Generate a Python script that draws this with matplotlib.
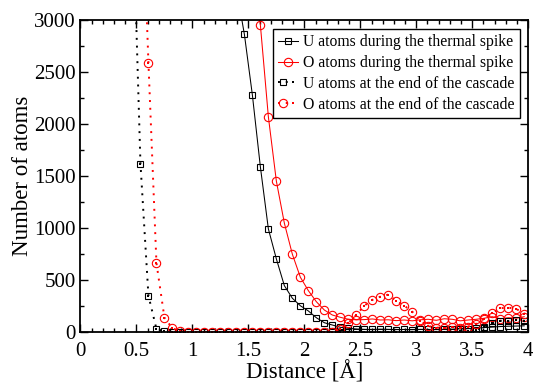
import numpy as np
import matplotlib
matplotlib.use("Agg")
import matplotlib.pyplot as plt
from matplotlib.legend_handler import HandlerTuple

plt.rcParams['font.family'] = ['Liberation Serif', 'DejaVu Serif']
plt.rcParams['mathtext.fontset'] = 'stix'

# bin index k -> distance (k + 0.5) / 14
def dist(k0, n):
    return (np.arange(k0, k0 + n) + 0.5) / 14.0

# U atoms during the thermal spike (starting at bin 19)
u_spike = [3300, 2862, 2279, 1589, 993, 705, 448, 327, 255, 205, 140, 92, 70, 48,
           38, 32, 28, 27, 30, 28, 26, 27, 25, 28, 27, 26, 28, 30, 33, 35, 40, 45,
           50, 55, 58, 60, 62]
# O atoms during the thermal spike (starting at bin 21)
o_spike = [3500, 2952, 2070, 1452, 1048, 750, 529, 400, 294, 214, 166, 144, 125,
           120, 122, 128, 118, 120, 112, 118, 110, 120, 125, 115, 130, 125, 110,
           118, 125, 135, 150, 130, 140, 135, 150]
# U atoms at the end of the cascade (starting at bin 6)
u_end = [4200, 1621, 352, 32, 8] + [0] * 35 + [5, 10, 15, 25, 50, 85, 110, 105, 118, 110]
# O atoms at the end of the cascade (starting at bin 7)
o_end = [4700, 2587, 666, 140, 38, 10] + [0] * 18 + [5, 30, 90, 166, 256, 311, 342, 362,
         301, 256, 198, 110, 60, 45, 40, 50, 45, 55, 80, 130, 185, 231, 237, 225, 180]

labels = ["U atoms during the thermal spike",
          "O atoms during the thermal spike",
          "U atoms at the end of the cascade",
          "O atoms at the end of the cascade"]

fig = plt.figure(figsize=(5.33, 3.83), dpi=100)
ax = fig.add_axes([0.151, 0.1324, 0.840, 0.8156])

red = '#ff0000'
mew = 0.8
dots = (0, (1.0, 3.0))

h1, = ax.plot(dist(19, len(u_spike)), u_spike, color='black', lw=0.75,
              marker='s', ms=4.5, mfc='none', mec='black', mew=mew)
h2, = ax.plot(dist(21, len(o_spike)), o_spike, color=red, lw=0.75,
              marker='o', ms=6, mfc='none', mec=red, mew=mew)
h3, = ax.plot(dist(6, len(u_end)), u_end, color='black', lw=1.4, linestyle=dots,
              dash_capstyle='butt',
              marker='s', ms=4.5, mfc='none', mec='black', mew=mew)
h3d, = ax.plot(dist(6, len(u_end)), u_end, linestyle='none', marker='s', ms=1.7,
               color='black', mew=0)
h4, = ax.plot(dist(7, len(o_end)), o_end, color=red, lw=1.4, linestyle=dots,
              dash_capstyle='butt',
              marker='o', ms=6, mfc='none', mec=red, mew=mew)
h4d, = ax.plot(dist(7, len(o_end)), o_end, linestyle='none', marker='s', ms=1.7,
               color=red, mew=0)

ax.set_xlim(0, 4)
ax.set_ylim(0, 3000)
ax.set_xticks(np.arange(0, 4.01, 0.5))
ax.set_xticklabels(['0', '0.5', '1', '1.5', '2', '2.5', '3', '3.5', '4'])
ax.set_xticks(np.arange(0, 4.01, 0.1), minor=True)
ax.set_yticks(np.arange(0, 3001, 500))
ax.set_yticks(np.arange(0, 3001, 250), minor=True)
ax.tick_params(which='both', direction='in', top=True, right=True, labelsize=15,
               width=1.0)
ax.tick_params(axis='x', which='major', pad=7)
ax.tick_params(which='major', length=6)
ax.tick_params(which='minor', length=3)
for s in ax.spines.values():
    s.set_linewidth(1.3)

ax.set_xlabel('Distance [Å]', fontsize=16.5, labelpad=0)
ax.set_ylabel('Number of atoms', fontsize=16.5, labelpad=1)

leg = ax.legend([h1, h2, (h3, h3d), (h4, h4d)], labels,
                handler_map={tuple: HandlerTuple(ndivide=None, pad=0)},
                loc='upper right', bbox_to_anchor=(0.982, 0.971),
                borderaxespad=0, fontsize=11.3, fancybox=False, framealpha=1,
                edgecolor='black', handlelength=1.3, handletextpad=0.3,
                labelspacing=0.3, borderpad=0.35)
leg.get_frame().set_linewidth(1.0)

fig.savefig('out.png', dpi=100)
